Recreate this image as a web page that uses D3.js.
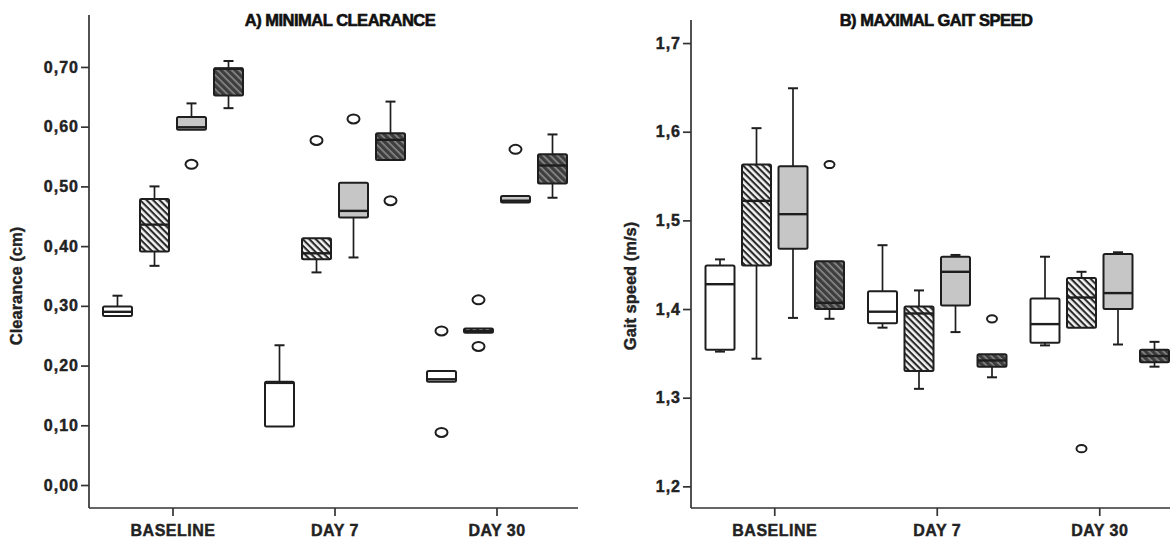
<!DOCTYPE html>
<html>
<head>
<meta charset="utf-8">
<script src="https://cdn.jsdelivr.net/npm/d3@7/dist/d3.min.js"></script>
<style>
  html, body { margin: 0; padding: 0; background: #fff; }
  svg { display: block; }
  .tick text { font-family: "Liberation Sans", Arial, sans-serif; font-weight: bold; fill: #222; stroke: #222; stroke-width: 0.45px; }
</style>
</head>
<body>
<svg id="chart" width="1170" height="538"></svg>
<script>
// Time points on the x axis and the four study groups drawn at each.
const timepoints = ["BASELINE", "DAY 7", "DAY 30"];
const groups = ["Group 1", "Group 2", "Group 3", "Group 4"];

// Box statistics per time point: [lower whisker, Q1, median, Q3, upper whisker]
// A) Minimal clearance (cm)
const clearanceGroup1 = [[0.283, 0.283, 0.290, 0.299, 0.317], [0.098, 0.098, 0.171, 0.173, 0.234], [0.173, 0.173, 0.177, 0.191, 0.191]];
const clearanceGroup2 = [[0.367, 0.391, 0.436, 0.479, 0.500], [0.356, 0.378, 0.388, 0.413, 0.413], [0.255, 0.255, 0.258, 0.262, 0.262]];
const clearanceGroup3 = [[0.595, 0.595, 0.599, 0.616, 0.639], [0.381, 0.448, 0.459, 0.506, 0.506], [0.473, 0.473, 0.476, 0.484, 0.484]];
const clearanceGroup4 = [[0.631, 0.652, 0.697, 0.698, 0.710], [0.544, 0.544, 0.578, 0.589, 0.642], [0.481, 0.505, 0.535, 0.554, 0.587]];
// Outliers: [group index, time point index, value]
const clearanceOutliers = [[2, 0, 0.537], [1, 1, 0.577], [2, 1, 0.613], [3, 1, 0.476],
                           [0, 2, 0.258], [0, 2, 0.088], [1, 2, 0.310], [1, 2, 0.232], [2, 2, 0.562]];

// B) Maximal gait speed (m/s)
const speedGroup1 = [[1.352, 1.354, 1.428, 1.449, 1.456], [1.379, 1.384, 1.397, 1.420, 1.472], [1.359, 1.362, 1.383, 1.412, 1.459]];
const speedGroup2 = [[1.344, 1.449, 1.522, 1.563, 1.604], [1.310, 1.330, 1.395, 1.403, 1.421], [1.379, 1.379, 1.413, 1.435, 1.442]];
const speedGroup3 = [[1.390, 1.468, 1.507, 1.561, 1.649], [1.374, 1.404, 1.442, 1.459, 1.461], [1.360, 1.400, 1.418, 1.462, 1.464]];
const speedGroup4 = [[1.389, 1.400, 1.407, 1.454, 1.454], [1.323, 1.335, 1.342, 1.349, 1.349], [1.335, 1.340, 1.347, 1.354, 1.363]];
const speedOutliers = [[3, 0, 1.563], [3, 1, 1.389], [1, 2, 1.2425]];

// Tick values for each panel
const clearanceTicks = [0.00, 0.10, 0.20, 0.30, 0.40, 0.50, 0.60, 0.70];
const speedTicks = [1.2, 1.3, 1.4, 1.5, 1.6, 1.7];

const svg = d3.select("#chart");
const FONT = '"Liberation Sans", Arial, sans-serif';
const INK = "#1e1e1e";

// Fill patterns for the groups
const defs = svg.append("defs");
const hatchLight = defs.append("pattern")
  .attr("id", "hatchLight").attr("patternUnits", "userSpaceOnUse")
  .attr("width", 4.6).attr("height", 4.6).attr("patternTransform", "rotate(45)");
hatchLight.append("rect").attr("width", 4.6).attr("height", 4.6).attr("fill", "#f4f4f4");
hatchLight.append("rect").attr("width", 4.6).attr("height", 2.1).attr("fill", "#2a2a2a");

const hatchDark = defs.append("pattern")
  .attr("id", "hatchDark").attr("patternUnits", "userSpaceOnUse")
  .attr("width", 5).attr("height", 5).attr("patternTransform", "rotate(45)");
hatchDark.append("rect").attr("width", 5).attr("height", 5).attr("fill", "#3e3e3e");
hatchDark.append("rect").attr("width", 5).attr("height", 1.6).attr("fill", "#8c8c8c");

const groupFills = ["#ffffff", "url(#hatchLight)", "#c6c6c6", "url(#hatchDark)"];

function drawPanel(cfg) {
  const g = svg.append("g");
  const x = d3.scaleBand().domain(timepoints).range(cfg.xRange);
  const xi = d3.scaleBand().domain(groups).range([-cfg.inner, cfg.inner]);
  const y = d3.scaleLinear().domain(cfg.yDomain).range([508, cfg.yTop]);
  const boxW = 29, capW = 10;
  const cx = (gi, ti) => x(timepoints[ti]) + x.bandwidth() / 2 + xi(groups[gi]) + xi.bandwidth() / 2;

  // axes
  const yAxis = d3.axisLeft(y).tickValues(cfg.ticks).tickSize(8).tickPadding(2)
    .tickFormat(d => d3.format(cfg.fmt)(d).replace(".", ","));
  const ya = g.append("g").attr("transform", `translate(${cfg.axisX},0)`).call(yAxis);
  ya.select(".domain").remove();
  ya.selectAll(".tick line").attr("stroke", "#333").attr("stroke-width", 1.7);
  ya.selectAll(".tick text").attr("font-size", 16).attr("letter-spacing", 1.0);
  g.append("line").attr("x1", cfg.axisX).attr("x2", cfg.axisX)
    .attr("y1", y(cfg.yDomain[0])).attr("y2", y(cfg.yDomain[1]))
    .attr("stroke", "#333").attr("stroke-width", 1.7);

  const xAxis = d3.axisBottom(x).tickSize(8).tickPadding(9);
  const xa = g.append("g").attr("transform", "translate(0,508)").call(xAxis);
  xa.select(".domain").remove();
  xa.selectAll(".tick line").attr("stroke", "#333").attr("stroke-width", 1.7);
  xa.selectAll(".tick text").attr("font-size", 16).attr("letter-spacing", 0.5);
  g.append("line").attr("x1", cfg.axisX).attr("x2", cfg.xEnd).attr("y1", 508).attr("y2", 508)
    .attr("stroke", "#333").attr("stroke-width", 1.7);

  // titles
  g.append("text").attr("x", cfg.titleX).attr("y", 26).attr("text-anchor", "middle")
    .attr("font-family", FONT).attr("font-weight", "bold").attr("font-size", 16.5)
    .attr("letter-spacing", -0.5).attr("fill", "#111")
    .attr("stroke", "#111").attr("stroke-width", 0.6).text(cfg.title);
  g.append("text").attr("transform", `translate(${cfg.labelX},${cfg.labelY}) rotate(-90)`)
    .attr("text-anchor", "middle").attr("font-family", FONT).attr("font-weight", "bold")
    .attr("font-size", 16.5).attr("fill", "#222").attr("stroke", "#222").attr("stroke-width", 0.4)
    .text(cfg.yLabel);

  // boxes
  const rows = [];
  cfg.series.forEach((s, gi) => s.forEach((st, ti) => rows.push({ gi, ti, st })));
  const box = g.selectAll(".box").data(rows).join("g").attr("class", "box");
  box.append("line")
    .attr("x1", d => cx(d.gi, d.ti)).attr("x2", d => cx(d.gi, d.ti))
    .attr("y1", d => y(d.st[3])).attr("y2", d => y(d.st[4]))
    .attr("stroke", INK).attr("stroke-width", 1.7);
  box.append("line")
    .attr("x1", d => cx(d.gi, d.ti)).attr("x2", d => cx(d.gi, d.ti))
    .attr("y1", d => y(d.st[0])).attr("y2", d => y(d.st[1]))
    .attr("stroke", INK).attr("stroke-width", 1.7);
  [0, 4].forEach(k => {
    box.filter(d => Math.abs(y(d.st[k]) - y(d.st[k === 0 ? 1 : 3])) > 1.5).append("line")
      .attr("x1", d => cx(d.gi, d.ti) - capW / 2).attr("x2", d => cx(d.gi, d.ti) + capW / 2)
      .attr("y1", d => y(d.st[k])).attr("y2", d => y(d.st[k]))
      .attr("stroke", INK).attr("stroke-width", 2);
  });
  box.append("rect")
    .attr("x", d => cx(d.gi, d.ti) - boxW / 2).attr("width", boxW)
    .attr("y", d => y(d.st[3])).attr("height", d => Math.max(2, y(d.st[1]) - y(d.st[3])))
    .attr("rx", 1.5)
    .attr("fill", d => groupFills[d.gi]).attr("stroke", INK).attr("stroke-width", 2);
  box.append("line")
    .attr("x1", d => cx(d.gi, d.ti) - boxW / 2).attr("x2", d => cx(d.gi, d.ti) + boxW / 2)
    .attr("y1", d => y(d.st[2])).attr("y2", d => y(d.st[2]))
    .attr("stroke", INK).attr("stroke-width", 2.4);

  // outliers
  g.selectAll(".out").data(cfg.outliers).join("ellipse").attr("class", "out")
    .attr("cx", d => cx(d[0], d[1])).attr("cy", d => y(d[2]))
    .attr("rx", cfg.orx).attr("ry", cfg.ory)
    .attr("fill", "#fff").attr("stroke", INK).attr("stroke-width", 2);
}

drawPanel({
  title: "A) MINIMAL CLEARANCE", titleX: 340,
  yLabel: "Clearance (cm)", labelX: 22, labelY: 286,
  axisX: 89, xRange: [92, 578], xEnd: 578, inner: 74,
  yDomain: [-0.0385, 0.787], yTop: 15, ticks: clearanceTicks, fmt: ".2f",
  series: [clearanceGroup1, clearanceGroup2, clearanceGroup3, clearanceGroup4],
  outliers: clearanceOutliers, orx: 6, ory: 4.5
});

drawPanel({
  title: "B) MAXIMAL GAIT SPEED", titleX: 936,
  yLabel: "Gait speed (m/s)", labelX: 636, labelY: 286,
  axisX: 691, xRange: [693.5, 1181], xEnd: 1170, inner: 73,
  yDomain: [1.1756, 1.726], yTop: 20, ticks: speedTicks, fmt: ".1f",
  series: [speedGroup1, speedGroup2, speedGroup3, speedGroup4],
  outliers: speedOutliers, orx: 5, ory: 3.6
});
</script>
</body>
</html>
